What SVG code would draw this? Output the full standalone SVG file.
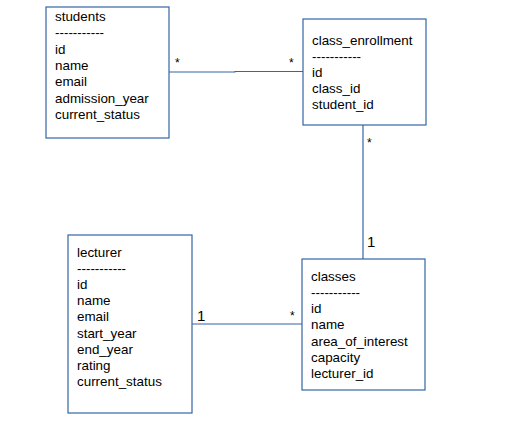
<svg xmlns="http://www.w3.org/2000/svg" width="512" height="427" viewBox="0 0 512 427">
<style>
.box{fill:#fff;stroke:#3465a4;stroke-width:1.2}
.t{font-family:"Liberation Sans",Arial,sans-serif;font-size:13.4px;fill:#000}
.m{font-family:"Liberation Sans",Arial,sans-serif;font-size:12px;fill:#000}
.one{font-family:"Liberation Sans",Arial,sans-serif;font-size:15px;fill:#000}
.c{fill:none;stroke:#3465a4;stroke-width:1.2}
</style>
<rect width="512" height="427" fill="#fff"/>
<g id="connectors">
<polyline class="c" points="169,72 235,72 235,71.5 303,71.5"/>
<line class="c" x1="363" y1="125" x2="363" y2="259"/>
<line class="c" x1="192" y1="324" x2="302" y2="324"/>
<text class="m" x="175" y="67">*</text>
<text class="m" x="289" y="67">*</text>
<text class="m" x="367" y="147">*</text>
<text class="one" x="367" y="247">1</text>
<text class="one" x="197" y="321">1</text>
<text class="m" x="290" y="320">*</text>
</g>
<g id="students">
<rect class="box" x="46" y="7" width="123" height="131"/>
<text class="t" x="55" y="21">students</text>
<text class="t" x="55" y="37">-----------</text>
<text class="t" x="55" y="54">id</text>
<text class="t" x="55" y="70">name</text>
<text class="t" x="55" y="86">email</text>
<text class="t" x="55" y="103">admission_year</text>
<text class="t" x="55" y="119">current_status</text>
</g>
<g id="class_enrollment">
<rect class="box" x="303" y="19" width="123" height="106"/>
<text class="t" x="312" y="45">class_enrollment</text>
<text class="t" x="312" y="61">-----------</text>
<text class="t" x="312" y="77">id</text>
<text class="t" x="312" y="93">class_id</text>
<text class="t" x="312" y="109">student_id</text>
</g>
<g id="classes">
<rect class="box" x="302" y="259" width="123" height="131"/>
<text class="t" x="311" y="281">classes</text>
<text class="t" x="311" y="297">-----------</text>
<text class="t" x="311" y="313">id</text>
<text class="t" x="311" y="329">name</text>
<text class="t" x="311" y="346">area_of_interest</text>
<text class="t" x="311" y="362">capacity</text>
<text class="t" x="311" y="378">lecturer_id</text>
</g>
<g id="lecturer">
<rect class="box" x="68" y="235" width="124" height="178"/>
<text class="t" x="77" y="257">lecturer</text>
<text class="t" x="77" y="273">-----------</text>
<text class="t" x="77" y="289">id</text>
<text class="t" x="77" y="305">name</text>
<text class="t" x="77" y="321">email</text>
<text class="t" x="77" y="338">start_year</text>
<text class="t" x="77" y="354">end_year</text>
<text class="t" x="77" y="370">rating</text>
<text class="t" x="77" y="386">current_status</text>
</g>
</svg>
